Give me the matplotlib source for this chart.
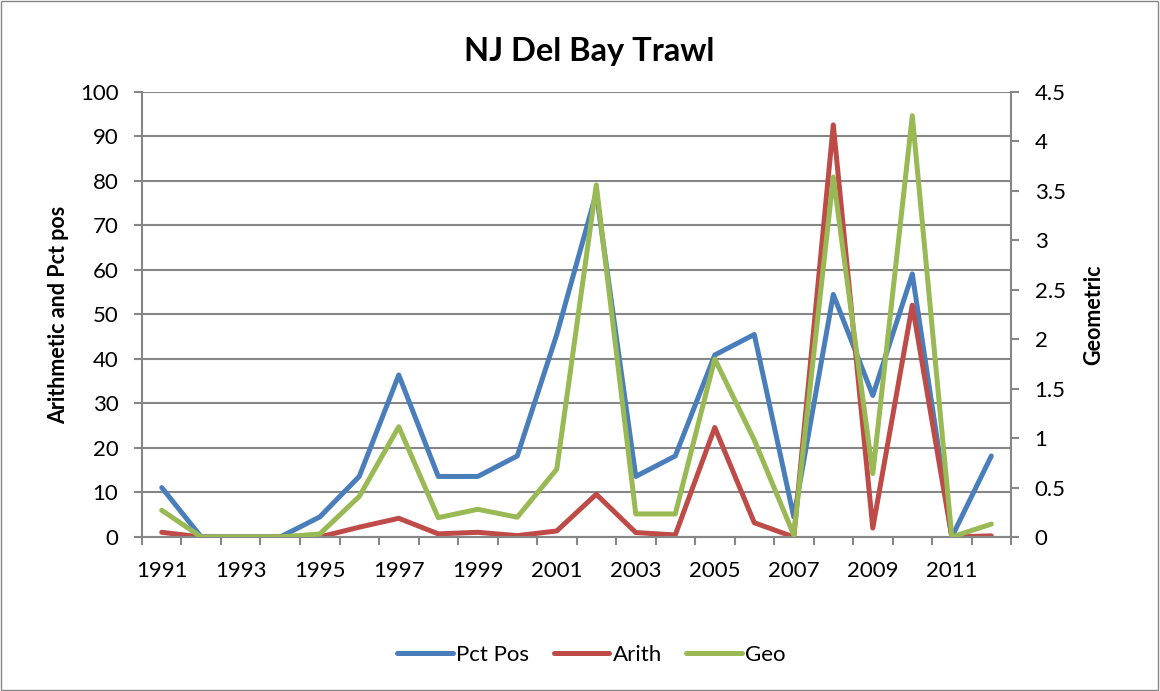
import matplotlib
matplotlib.use("Agg")
import matplotlib.pyplot as plt
import numpy as np

years = list(range(1991, 2013))
pct_pos = [11.1, 0, 0, 0, 4.5, 13.6, 36.4, 13.6, 13.6, 18.2, 45.5, 77.3,
           13.6, 18.2, 40.9, 45.5, 4.5, 54.5, 31.8, 59.1, 0, 18.2]
arith = [1.05, 0, 0, 0, 0, 2.2, 4.2, 0.7, 1.05, 0.3, 1.35, 9.6,
         1.0, 0.45, 24.6, 3.2, 0, 92.6, 2.0, 52.1, 0, 0.25]
geo = [0.27, 0, 0, 0, 0.03, 0.41, 1.115, 0.195, 0.28, 0.2, 0.685, 3.56,
       0.233, 0.233, 1.8, 0.98, 0.02, 3.64, 0.64, 4.26, 0, 0.13]

FONT = ["Lato", "DejaVu Sans"]
plt.rcParams['font.family'] = FONT

C_BLUE = "#4A7EBB"
C_RED = "#BE4B48"
C_GREEN = "#98B954"
GRID = "#868686"

fig = plt.figure(figsize=(11.6, 6.91), dpi=100)
fig.patch.set_facecolor("white")
fig.add_artist(plt.Rectangle((0.001, 0.001), 0.997, 0.997, transform=fig.transFigure,
                             fill=False, edgecolor=GRID, linewidth=1.0))

ax = fig.add_axes([0.1224, 0.2229, 0.7492, 0.6440])
ax2 = ax.twinx()

x = np.arange(len(years))
lw = 3.6
kw = dict(lw=lw, solid_joinstyle="round", solid_capstyle="round")
l1, = ax.plot(x, pct_pos, color=C_BLUE, label="Pct Pos", **kw)
l2, = ax.plot(x, arith, color=C_RED, label="Arith", **kw)
l3, = ax2.plot(x, geo, color=C_GREEN, label="Geo", **kw)
ax2.set_zorder(ax.get_zorder() + 1)
ax2.patch.set_visible(False)

ax.set_xlim(-0.5, len(years) - 0.5)
ax.set_ylim(0, 100)
ax2.set_ylim(0, 4.5)

ax.set_yticks(np.arange(0, 101, 10))
ax2.set_yticks(np.arange(0, 4.51, 0.5))
ax2.set_yticklabels(["0", "0.5", "1", "1.5", "2", "2.5", "3", "3.5", "4", "4.5"])
ax.set_xticks(x[::2])
ax.set_xticklabels([str(y) for y in years[::2]])
ax.set_xticks(np.arange(-0.5, len(years), 1), minor=True)

ax.grid(axis="y", color=GRID, linewidth=1.5)
ax.set_axisbelow(True)

for a in (ax, ax2):
    for s in a.spines.values():
        s.set_visible(False)
ax.spines["left"].set_visible(True)
ax.spines["bottom"].set_visible(True)
ax2.spines["right"].set_visible(True)
for s in (ax.spines["left"], ax.spines["bottom"], ax2.spines["right"]):
    s.set_color(GRID)
    s.set_linewidth(1.5)

TS = 16
ax.tick_params(axis="x", which="major", length=0, labelsize=TS, pad=17, colors="black")
ax.tick_params(axis="x", which="minor", length=6, width=1.5, color=GRID)
ax.tick_params(axis="y", length=6, width=1.5, color=GRID, labelsize=TS, labelcolor="black", pad=11)
ax2.tick_params(axis="y", length=6, width=1.5, color=GRID, labelsize=TS, labelcolor="black", pad=11)

ax.set_ylabel("Arithmetic and Pct pos", fontsize=15.5, fontweight="bold", labelpad=8)
ax2.set_ylabel("Geometric", fontsize=15.5, fontweight="bold", labelpad=13)

fig.text(0.508, 0.925, "NJ Del Bay Trawl", ha="center", va="center", fontsize=23.5, fontweight="bold")

fig.legend(handles=[l1, l2, l3], loc="center", bbox_to_anchor=(0.51, 0.052), ncol=3, frameon=False,
           fontsize=16, handlelength=2.5, columnspacing=1.1, handletextpad=0.15)

fig.savefig("out.png", dpi=100, facecolor="white")
